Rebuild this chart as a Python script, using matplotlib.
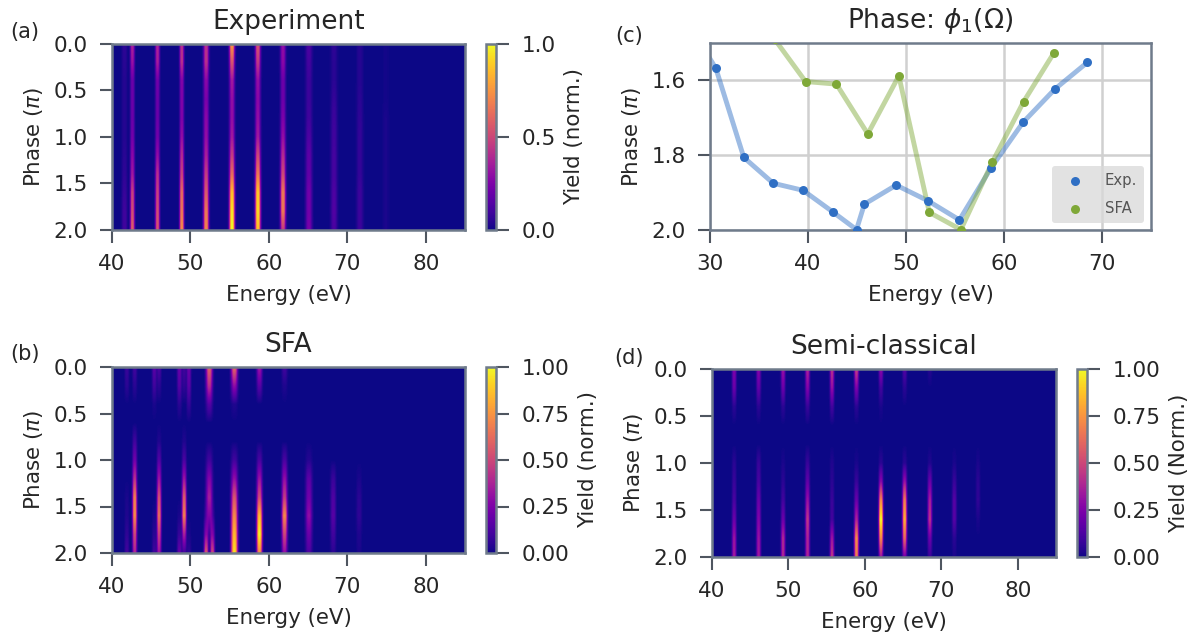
"""Four panel figure: measured and calculated yield maps plus the extracted phase."""

import numpy as np
import matplotlib
matplotlib.use("Agg")
import matplotlib.pyplot as plt

FIG_W, FIG_H = 1191, 637
EDGE = "#6f7b8b"
TICK = "#4f5660"
TEXT = "#262626"

PHASE_ROWS = [0.0, 0.2, 0.4, 0.6, 0.8, 1.0, 1.2, 1.4, 1.6, 1.8, 2.0]

# line shapes across one harmonic, sampled every 0.1 eV
SHAPES = {
    "narrow": [0.05, 0.25, 0.65, 1.0, 1.0, 1.0, 0.65, 0.25, 0.05],
    "mid": [0.05, 0.18, 0.45, 0.8, 1.0, 1.0, 1.0, 0.8, 0.45, 0.18, 0.05],
    "wide": [0.05, 0.15, 0.35, 0.6, 0.85, 1.0, 1.0, 1.0, 0.85, 0.6, 0.35, 0.15, 0.05],
}

# (energy, shape, yield at each of PHASE_ROWS)
exp_lines = [
    (41.6, "mid", [.06, .05, .04, .04, .04, .04, .05, .06, .08, .1, .1]),
    (42.6, "narrow", [.38, .32, .2, .2, .2, .22, .28, .34, .48, .52, .58]),
    (45.75, "narrow", [.38, .36, .22, .2, .2, .22, .3, .42, .48, .52, .55]),
    (48.9, "narrow", [.42, .42, .26, .25, .25, .3, .4, .48, .62, .66, .72]),
    (52.05, "mid", [.42, .42, .28, .24, .28, .3, .36, .46, .56, .66, .7]),
    (55.3, "mid", [.78, .55, .34, .3, .3, .34, .46, .62, .86, .95, 1.0]),
    (58.6, "mid", [.55, .45, .3, .28, .3, .34, .5, .66, .88, .92, .86]),
    (61.85, "mid", [.3, .28, .2, .2, .24, .3, .4, .5, .66, .66, .46]),
    (65.1, "wide", [.13, .11, .09, .09, .1, .13, .17, .18, .22, .22, .24]),
    (68.35, "wide", [.06, .05, .05, .07, .09, .1, .11, .11, .13, .14, .12]),
    (71.6, "wide", [.04, .04, .04, .05, .06, .07, .07, .07, .09, .09, .09]),
    (74.9, "wide", [.01, .01, .01, .01, .02, .02, .02, .02, .02, .02, .02]),
]

sfa_lines = [
    (42.9, "narrow", [.1, .05, 0, 0, .1, .22, .42, .68, .72, .5, .38]),
    (41.9, "narrow", [.08, .05, 0, 0, 0, 0, 0, .02, .03, .06, .1]),
    (46.05, "narrow", [.12, .05, 0, 0, .03, .14, .32, .52, .62, .46, .32]),
    (45.35, "narrow", [.16, .1, .02, 0, 0, 0, 0, 0, .02, .05, .1]),
    (49.25, "narrow", [.1, .06, 0, 0, .03, .12, .32, .56, .68, .36, .1]),
    (48.6, "narrow", [.2, .15, .05, 0, 0, 0, 0, 0, .02, .08, .2]),
    (49.8, "narrow", [.2, .16, .07, 0, 0, 0, 0, 0, 0, .02, .06]),
    (52.35, "wide", [.6, .42, .15, 0, 0, .1, .26, .36, .25, .06, 0]),
    (52.0, "narrow", [0, 0, 0, 0, 0, 0, 0, 0, .06, .25, .55]),
    (52.85, "narrow", [0, 0, 0, 0, 0, 0, 0, 0, .06, .25, .5]),
    (55.6, "wide", [.62, .3, .03, 0, 0, .1, .3, .55, .72, .85, .95]),
    (58.8, "mid", [.34, .16, 0, 0, 0, .12, .32, .52, .86, 1.0, .72]),
    (61.95, "mid", [.1, .03, 0, 0, 0, .12, .3, .46, .72, .5, .3]),
    (65.1, "wide", [0, 0, 0, 0, 0, .04, .17, .22, .3, .2, .13]),
    (68.25, "mid", [0, 0, 0, 0, 0, 0, .08, .13, .15, .1, .05]),
    (71.5, "mid", [0, 0, 0, 0, 0, 0, .02, .05, .06, .03, .02]),
]

semi_lines = [
    (42.9, "narrow", [.25, .2, .05, 0, 0, .05, .08, .12, .2, .32, .34]),
    (46.1, "narrow", [.27, .18, .05, 0, 0, .08, .12, .2, .26, .32, .34]),
    (49.3, "narrow", [.32, .2, .05, 0, 0, .02, .05, .1, .2, .38, .38]),
    (52.5, "narrow", [.38, .26, .08, 0, 0, .08, .18, .32, .44, .38, .38]),
    (55.7, "narrow", [.42, .3, .1, 0, 0, .03, .05, .08, .1, .32, .44]),
    (58.9, "narrow", [.48, .25, .05, 0, 0, .02, .08, .2, .38, .72, .68]),
    (62.1, "narrow", [.28, .1, .02, 0, 0, .05, .28, .72, 1.0, .72, .32]),
    (65.25, "narrow", [.14, .05, 0, 0, 0, .05, .32, .68, .82, .62, .22]),
    (68.5, "narrow", [.04, 0, 0, 0, 0, .03, .2, .36, .42, .2, .08]),
    (71.65, "narrow", [0, 0, 0, 0, 0, .02, .08, .15, .15, .05, .02]),
    (74.8, "narrow", [0, 0, 0, 0, 0, .02, .05, .06, .02, 0, 0]),
]

exp_energy = [27.4, 30.6, 33.45, 36.45, 39.5, 42.6, 44.95, 45.75, 49.0, 52.25, 55.45, 58.7, 61.95, 65.2, 68.5]
exp_phase = [1.43, 1.568, 1.806, 1.875, 1.894, 1.953, 1.999, 1.931, 1.880, 1.922, 1.973, 1.833, 1.712, 1.623, 1.552]
sfa_energy = [36.6, 39.75, 42.9, 46.1, 49.27, 52.38, 55.6, 58.8, 62.0, 65.1]
sfa_phase = [1.49, 1.603, 1.61, 1.743, 1.588, 1.953, 1.999, 1.819, 1.657, 1.526]

plt.rcParams["font.family"] = "DejaVu Sans"
plt.rcParams["text.color"] = TEXT
plt.rcParams["axes.labelcolor"] = TEXT
plt.rcParams["xtick.labelcolor"] = TEXT
plt.rcParams["ytick.labelcolor"] = TEXT


def box(left, top, right, bottom):
    """Axes rectangle from pixel edges of the picture."""
    return [left / FIG_W, 1 - bottom / FIG_H, (right - left) / FIG_W, (bottom - top) / FIG_H]


def yield_map(lines):
    """Puts the harmonics on a 0.1 eV energy grid."""
    energy = np.arange(40, 85.05, 0.1)
    grid = np.zeros((len(PHASE_ROWS), len(energy)))
    for centre, shape, amps in lines:
        profile = np.array(SHAPES[shape])
        first = int(round((centre - 40) / 0.1)) - len(profile) // 2
        grid[:, first:first + len(profile)] += np.outer(amps, profile)
    return np.clip(grid, 0, 1)


def style_axes(ax):
    ax.tick_params(length=9, width=1.5, color=TICK, labelsize=15.5, pad=8.5)
    for spine in ax.spines.values():
        spine.set_color(EDGE)
        spine.set_linewidth(1.8)


def map_panel(fig, rect, cbar_rect, lines, title, cbar_label, cbar_ticks, cbar_fmt):
    ax = fig.add_axes(box(*rect))
    im = ax.imshow(yield_map(lines), cmap="plasma", vmin=0, vmax=1, aspect="auto",
                   extent=(39.95, 85.05, 2.1, -0.1), interpolation="bilinear",
                   interpolation_stage="data")
    ax.set_xlim(40, 85)
    ax.set_ylim(2, 0)
    ax.set_xticks([40, 50, 60, 70, 80])
    ax.set_yticks([0, 0.5, 1.0, 1.5, 2.0])
    ax.set_yticklabels(["0.0", "0.5", "1.0", "1.5", "2.0"])
    ax.set_xlabel("Energy (eV)", fontsize=15.4, labelpad=8)
    ax.set_ylabel(r"Phase ($\pi$)", fontsize=15.4, labelpad=6)
    ax.set_title(title, fontsize=19, pad=11)
    style_axes(ax)

    cax = fig.add_axes(box(*cbar_rect))
    cbar = fig.colorbar(im, cax=cax)
    cbar.set_ticks(cbar_ticks)
    cbar.set_ticklabels([cbar_fmt % t for t in cbar_ticks])
    cbar.set_label(cbar_label, fontsize=15.4, labelpad=6)
    cax.tick_params(length=9.5, width=1.5, color=TICK, labelsize=15.5, pad=9)
    cbar.outline.set_edgecolor(EDGE)
    cbar.outline.set_linewidth(1.8)
    return ax


fig = plt.figure(figsize=(FIG_W / 100, FIG_H / 100), dpi=100)

map_panel(fig, (112, 44, 465, 230), (486, 44, 496, 230), exp_lines, "Experiment",
          "Yield (norm.)", [0, 0.5, 1.0], "%.1f")
map_panel(fig, (112, 367, 465, 553), (486, 367, 496, 553), sfa_lines, "SFA",
          "Yield (norm.)", [0, 0.25, 0.5, 0.75, 1.0], "%.2f")
map_panel(fig, (712, 369, 1056, 557), (1077, 369, 1087, 557), semi_lines, "Semi-classical",
          "Yield (Norm.)", [0, 0.25, 0.5, 0.75, 1.0], "%.2f")

ax_c = fig.add_axes(box(710, 43, 1151, 230))
ax_c.plot(exp_energy, exp_phase, color="#2f6fc4", lw=3.5, alpha=0.47)
ax_c.plot(sfa_energy, sfa_phase, color="#7fa838", lw=3.5, alpha=0.47)
ax_c.scatter(exp_energy, exp_phase, s=42, color="#2f6fc4", zorder=3, label="Exp.", linewidths=0)
ax_c.scatter(sfa_energy, sfa_phase, s=42, color="#7fa838", zorder=3, label="SFA", linewidths=0)
ax_c.set_xlim(30, 75)
ax_c.set_ylim(2.0, 1.5)
ax_c.set_xticks([30, 40, 50, 60, 70])
ax_c.set_yticks([1.6, 1.8, 2.0])
ax_c.set_yticklabels(["1.6", "1.8", "2.0"])
ax_c.grid(color="#d0d0d0", lw=1.8)
ax_c.set_axisbelow(True)
ax_c.set_xlabel("Energy (eV)", fontsize=15.4, labelpad=8)
ax_c.set_ylabel(r"Phase ($\pi$)", fontsize=15.4, labelpad=6)
ax_c.set_title(r"Phase: $\phi_1(\Omega)$", fontsize=19, pad=11)
style_axes(ax_c)
ax_c.legend(loc="lower right", fontsize=10.7, frameon=True, facecolor="#d9d9d9",
            edgecolor="none", framealpha=0.75, labelcolor="#555555", borderaxespad=0.45,
            handletextpad=1.0, labelspacing=0.85, borderpad=0.5)

fig.text(10 / FIG_W, 1 - 32 / FIG_H, "(a)", fontsize=15, va="center")
fig.text(10 / FIG_W, 1 - 354 / FIG_H, "(b)", fontsize=15, va="center")
fig.text(615 / FIG_W, 1 - 36 / FIG_H, "(c)", fontsize=15, va="center")
fig.text(614 / FIG_W, 1 - 358 / FIG_H, "(d)", fontsize=15, va="center")

fig.savefig("out.png", dpi=100)
